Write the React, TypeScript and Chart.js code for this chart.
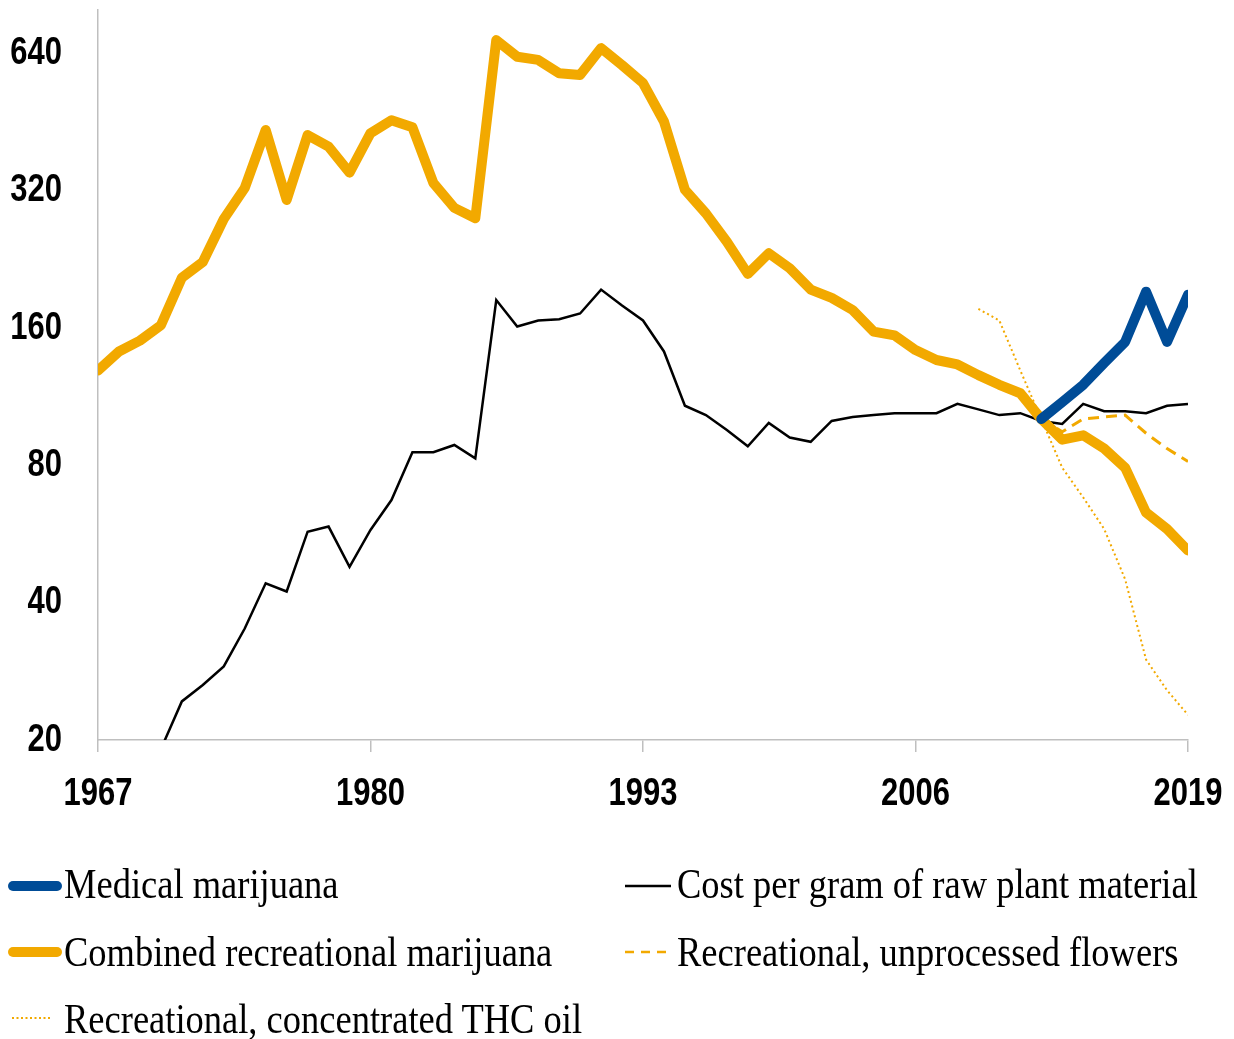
import React, { useEffect, useRef } from "react";
import { Chart, registerables } from "chart.js";

Chart.register(...registerables);

// ---- data ----
const years = [
  1967, 1968, 1969, 1970, 1971, 1972, 1973, 1974, 1975, 1976,
  1977, 1978, 1979, 1980, 1981, 1982, 1983, 1984, 1985, 1986,
  1987, 1988, 1989, 1990, 1991, 1992, 1993, 1994, 1995, 1996,
  1997, 1998, 1999, 2000, 2001, 2002, 2003, 2004, 2005, 2006,
  2007, 2008, 2009, 2010, 2011, 2012, 2013, 2014, 2015, 2016,
  2017, 2018, 2019,
];

const combinedRecreational = [
  129, 142, 150, 162, 206, 223, 277, 324, 434, 305,
  423, 399, 350, 427, 456, 440, 332, 293, 278, 683,
  628, 618, 578, 573, 656, 602, 550, 453, 321, 285,
  247, 210, 233, 216, 194, 186, 175, 157, 154, 143,
  136, 133, 126, 120, 115, 101, 91, 93, 87, 79,
  63, 58, 52,
];

const costYears = [
  1970, 1971, 1972, 1973, 1974, 1975, 1976, 1977, 1978, 1979,
  1980, 1981, 1982, 1983, 1984, 1985, 1986, 1987, 1988, 1989,
  1990, 1991, 1992, 1993, 1994, 1995, 1996, 1997, 1998, 1999,
  2000, 2001, 2002, 2003, 2004, 2005, 2006, 2007, 2008, 2009,
  2010, 2011, 2012, 2013, 2014, 2015, 2016, 2017, 2018, 2019,
];
const costPerGram = [
  19.1, 24.3, 26.4, 29, 35.1, 44.1, 42.3, 57.2, 58.7, 47.9,
  57.7, 67.1, 85.4, 85.4, 88.6, 82.8, 184, 161, 166, 167,
  172, 194, 179, 166, 142, 108, 103, 95.5, 88, 99,
  92, 90, 100, 102, 103, 104, 104, 104, 109, 106,
  103, 104, 100, 98.5, 109, 105, 105, 104, 108, 109,
];

const recentYears = [2012, 2013, 2014, 2015, 2016, 2017, 2018, 2019];
const medical = [101, 110, 120, 134, 149, 192, 149, 189];
const unprocessedFlowers = [101, 94.7, 101, 102, 103, 94, 87, 81.5];

const oilYears = [2009, 2010, 2011, 2012, 2013, 2014, 2015, 2016, 2017, 2018, 2019];
const thcOil = [176, 166, 129, 101, 79, 68, 58, 45, 30, 25.7, 22.7];

const yTicks = [20, 40, 80, 160, 320, 640];
const xTicks = [1967, 1980, 1993, 2006, 2019];

const legendLeft = [
  { label: "Medical marijuana", kind: "blue" },
  { label: "Combined recreational marijuana", kind: "orange" },
  { label: "Recreational, concentrated THC oil", kind: "dotted" },
];
const legendRight = [
  { label: "Cost per gram of raw plant material", kind: "black" },
  { label: "Recreational, unprocessed flowers", kind: "dashed" },
];

const ORANGE = "#F2A900";
const BLUE = "#004C97";
const AXIS = "#BFBFBF";

const pts = (xs: number[], ys: number[]) => xs.map((x, i) => ({ x, y: ys[i] }));

// Tick labels drawn with a slightly tall, condensed look (like the reference's bold axis font)
const TICK_FONT = 'bold 31px "Liberation Sans", Arial, sans-serif';
const TICK_STRETCH = 1.27;

const tallTickLabels = {
  id: "tallTickLabels",
  afterDraw(chart: any) {
    const ctx = chart.ctx as CanvasRenderingContext2D;
    const xs = chart.scales.x;
    const ys = chart.scales.y;
    ctx.save();
    ctx.fillStyle = "#000";
    ctx.font = TICK_FONT;
    ctx.textBaseline = "middle";
    ctx.textAlign = "right";
    ys.ticks.forEach((t: any) => {
      const py = ys.getPixelForValue(t.value);
      ctx.save();
      ctx.translate(ys.right - 36, py);
      ctx.scale(1, TICK_STRETCH);
      ctx.fillText(String(t.value), 0, 0);
      ctx.restore();
    });
    ctx.textAlign = "center";
    xs.ticks.forEach((t: any) => {
      const px = xs.getPixelForValue(t.value);
      ctx.save();
      ctx.translate(px, xs.top + 54);
      ctx.scale(1, TICK_STRETCH);
      ctx.fillText(String(t.value), 0, 0);
      ctx.restore();
    });
    ctx.restore();
  },
};

function LegendSample({ kind, x1, x2, y }: { kind: string; x1: number; x2: number; y: number }) {
  if (kind === "blue")
    return <line x1={x1} x2={x2} y1={y} y2={y} stroke={BLUE} strokeWidth={10} strokeLinecap="round" />;
  if (kind === "orange")
    return <line x1={x1} x2={x2} y1={y} y2={y} stroke={ORANGE} strokeWidth={10} strokeLinecap="round" />;
  if (kind === "black")
    return <line x1={x1} x2={x2} y1={y} y2={y} stroke="#000" strokeWidth={2.5} />;
  if (kind === "dashed")
    return <line x1={x1} x2={x2} y1={y} y2={y} stroke={ORANGE} strokeWidth={2.5} strokeDasharray="9 7" />;
  return <line x1={x1} x2={x2} y1={y} y2={y} stroke={ORANGE} strokeWidth={2} strokeDasharray="2 2.5" />;
}

export default function App() {
  const ref = useRef<HTMLCanvasElement | null>(null);

  useEffect(() => {
    if (!ref.current) return;
    const chart = new Chart(ref.current, {
      type: "line",
      data: {
        datasets: [
          {
            label: "Medical marijuana",
            data: pts(recentYears, medical),
            borderColor: BLUE,
            borderWidth: 10,
            borderCapStyle: "round",
            borderJoinStyle: "round",
          },
          {
            label: "Combined recreational marijuana",
            data: pts(years, combinedRecreational),
            borderColor: ORANGE,
            borderWidth: 10,
            borderCapStyle: "round",
            borderJoinStyle: "round",
          },
          {
            label: "Recreational, concentrated THC oil",
            data: pts(oilYears, thcOil),
            borderColor: ORANGE,
            borderWidth: 2,
            borderDash: [2, 3],
          },
          {
            label: "Cost per gram of raw plant material",
            data: pts(costYears, costPerGram),
            borderColor: "#000",
            borderWidth: 2.5,
          },
          {
            label: "Recreational, unprocessed flowers",
            data: pts(recentYears, unprocessedFlowers),
            borderColor: ORANGE,
            borderWidth: 3,
            borderDash: [11, 7],
          },
        ],
      },
      options: {
        responsive: false,
        animation: false,
        layout: { padding: { top: 10, right: 46, left: 0, bottom: 0 } },
        plugins: { legend: { display: false }, tooltip: { enabled: false } },
        elements: { point: { radius: 0, hoverRadius: 0 }, line: { tension: 0 } },
        scales: {
          x: {
            type: "linear",
            min: 1967,
            max: 2019,
            afterBuildTicks: (s: any) => {
              s.ticks = xTicks.map((v) => ({ value: v }));
            },
            afterFit: (s: any) => {
              s.height = 90;
              s.paddingLeft = 0;
              s.paddingRight = 0;
              s.paddingTop = 0;
              s.paddingBottom = 0;
            },
            ticks: { display: false, autoSkip: false, maxRotation: 0 },
            grid: {
              display: true,
              drawOnChartArea: false,
              drawTicks: true,
              tickLength: 12,
              color: AXIS,
              lineWidth: 1.5,
            },
            border: { display: true, color: AXIS, width: 1.5 },
          },
          y: {
            type: "logarithmic",
            min: 20,
            max: 795,
            afterBuildTicks: (s: any) => {
              s.ticks = yTicks.map((v) => ({ value: v }));
            },
            afterFit: (s: any) => {
              s.width = 98;
              s.paddingLeft = 0;
              s.paddingRight = 0;
              s.paddingTop = 0;
              s.paddingBottom = 0;
            },
            ticks: { display: false, autoSkip: false },
            grid: { display: false },
            border: { display: true, color: AXIS, width: 1.5 },
          },
        },
      },
      plugins: [tallTickLabels],
    });
    return () => chart.destroy();
  }, []);

  const serif = '"Liberation Serif", "Times New Roman", serif';
  const rowY = [898, 966, 1033];
  const sampleY = [886, 952, 1018];

  return (
    <div style={{ position: "absolute", left: 0, top: 0, width: 1234, height: 1039, background: "#fff" }}>
      <canvas ref={ref} width={1234} height={830} style={{ position: "absolute", left: 0, top: 0 }} />
      <svg
        width={1234}
        height={1039}
        style={{ position: "absolute", left: 0, top: 0, pointerEvents: "none" }}
      >
        {legendLeft.map((it, i) => (
          <g key={it.label}>
            <LegendSample
              kind={it.kind}
              x1={it.kind === "dotted" ? 12 : 13}
              x2={it.kind === "dotted" ? 50 : 57}
              y={sampleY[i]}
            />
            <text
              transform={`translate(64,${rowY[i]}) scale(1,1.18)`}
              fontFamily={serif}
              fontSize={36.5}
              fill="#000"
            >
              {it.label}
            </text>
          </g>
        ))}
        {legendRight.map((it, i) => (
          <g key={it.label}>
            <LegendSample kind={it.kind} x1={625} x2={671} y={sampleY[i]} />
            <text
              transform={`translate(677,${rowY[i]}) scale(1,1.18)`}
              fontFamily={serif}
              fontSize={36.5}
              fill="#000"
            >
              {it.label}
            </text>
          </g>
        ))}
      </svg>
    </div>
  );
}
